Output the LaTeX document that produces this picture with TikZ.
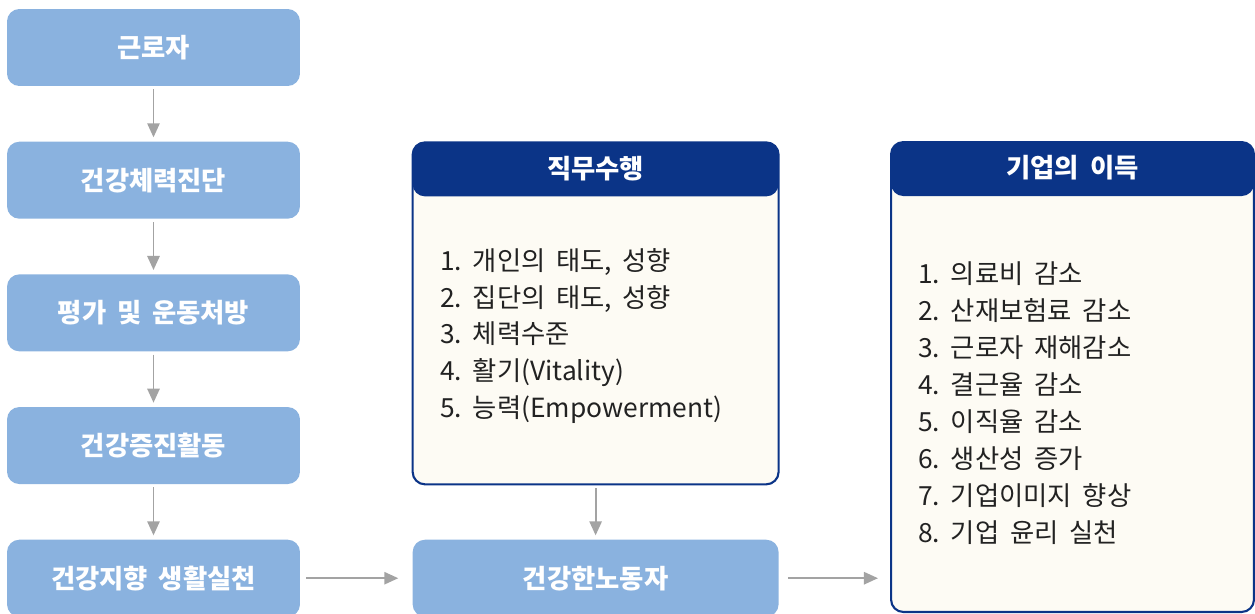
\documentclass[tikz,border=0pt]{standalone}
\usepackage{fontspec}
\setmainfont[WordSpace=1.8]{Noto Sans CJK KR}
\usepackage{tikz}
\usetikzlibrary{arrows.meta,positioning}
\definecolor{stepblue}{HTML}{8AB2DF}
\definecolor{navy}{HTML}{0B3487}
\definecolor{cream}{HTML}{FDFBF4}
\definecolor{arrowgray}{HTML}{A3A3A3}
\definecolor{ink}{HTML}{222222}

\tikzset{
    flowbox/.style={
        rounded corners=7pt,
        fill=stepblue,
        text=white,
        font=\fontsize{15}{20}\selectfont\bfseries,
        minimum width=5.86cm,
        minimum height=1.54cm,
        inner sep=0pt
    },
    panel/.style={
        rounded corners=7pt,
        draw=navy,
        line width=1.2pt,
        fill=cream,
        inner sep=0pt,
        path picture={
            \fill[navy] (path picture bounding box.north west)
                rectangle ([yshift=-1.08cm]path picture bounding box.north east);
        }
    },
    headtext/.style={text=white, font=\fontsize{15}{20}\selectfont\bfseries},
    listtext/.style={text=ink, align=left, anchor=west, inner sep=0pt, font=\fontsize{15}{21}\selectfont},
    flowarrow/.style={draw=arrowgray, line width=1.1pt, -{Triangle[length=8pt,width=7pt]}}
}

\begin{document}
\begin{tikzpicture}[x=0.02cm, y=-0.02cm]
    \useasboundingbox (0,0) rectangle (1255,613);

    % left column
    \node[flowbox] (worker) at (153.5,47.5) {근로자};
    \node[flowbox, below=1.1cm of worker] (checkup) {건강체력진단};
    \node[flowbox, below=1.1cm of checkup] (prescription) {평가 및 운동처방};
    \node[flowbox, below=1.1cm of prescription] (promotion) {건강증진활동};
    \node[flowbox, below=1.1cm of promotion] (lifestyle) {건강지향 생활실천};

    % middle column
    \node[flowbox, minimum width=7.32cm, right=2.24cm of lifestyle] (healthy) {건강한노동자};
    \node[panel, minimum width=7.32cm, minimum height=6.84cm, above=1.08cm of healthy] (duty) {};
    \node[headtext] (dutytitle) at ([yshift=-0.54cm]duty.north) {직무수행};
    \node[listtext] (dutylist) at (440,336) {
        1.\ 개인의 태도, 성향\\
        2.\ 집단의 태도, 성향\\
        3.\ 체력수준\\
        4.\ 활기(Vitality)\\
        5.\ 능력(Empowerment)
    };

    % right column
    \node[panel, anchor=north west, minimum width=7.26cm, minimum height=9.4cm] (gains) at (890,141) {};
    \node[headtext] (gainstitle) at ([yshift=-0.54cm]gains.north) {기업의 이득};
    \node[listtext] (gainslist) at (918,403) {
        1.\ 의료비 감소\\
        2.\ 산재보험료 감소\\
        3.\ 근로자 재해감소\\
        4.\ 결근율 감소\\
        5.\ 이직율 감소\\
        6.\ 생산성 증가\\
        7.\ 기업이미지 향상\\
        8.\ 기업 윤리 실천
    };

    % arrows
    \foreach \from/\to in {worker/checkup, checkup/prescription, prescription/promotion, promotion/lifestyle, duty/healthy}
        \draw[flowarrow, shorten <=0.06cm, shorten >=0.08cm] (\from.south) -- (\to.north);
    \draw[flowarrow, shorten <=0.12cm, shorten >=0.28cm] (lifestyle.east) -- (healthy.west);
    \draw[flowarrow, shorten <=0.18cm, shorten >=0.24cm] (healthy.east) -- (healthy.east -| gains.west);
\end{tikzpicture}
\end{document}
